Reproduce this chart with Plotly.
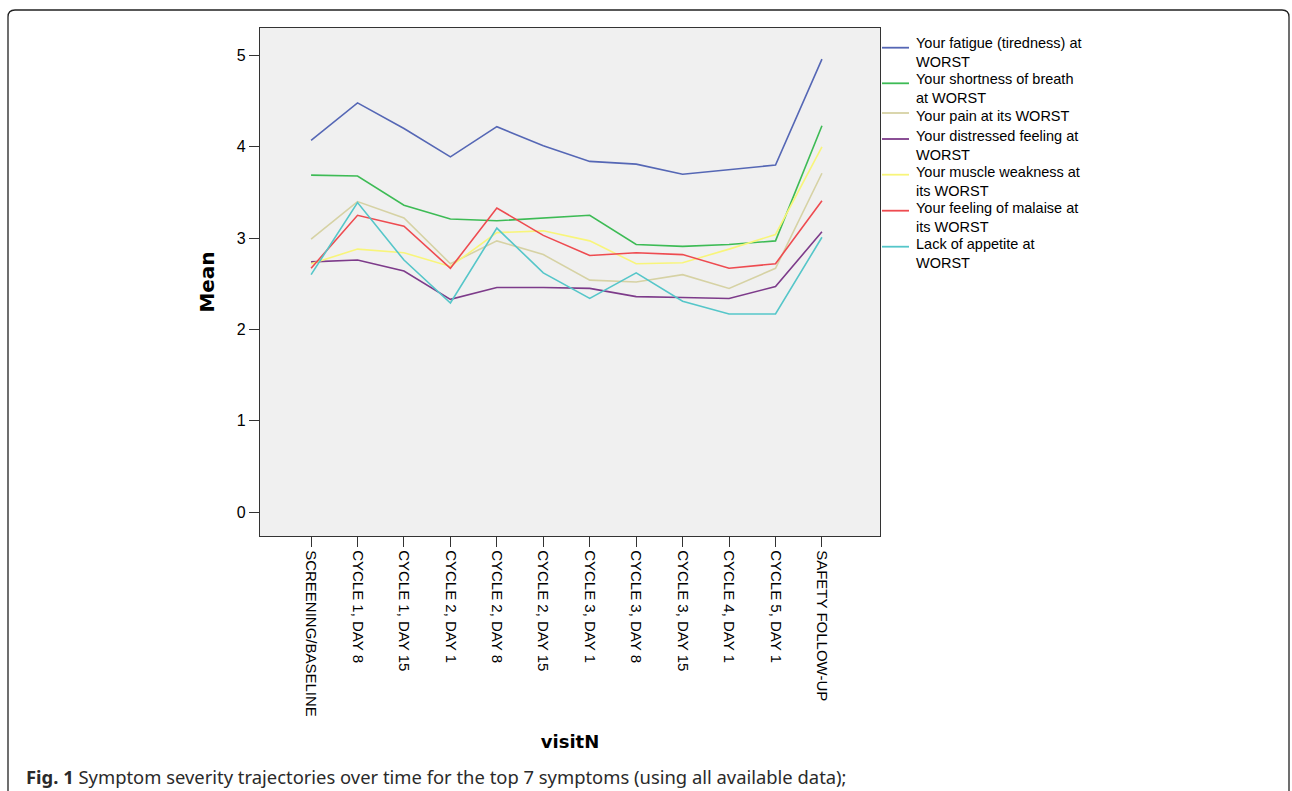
import plotly.graph_objects as go

visits = ["SCREENING/BASELINE", "CYCLE 1, DAY 8", "CYCLE 1, DAY 15", "CYCLE 2, DAY 1",
          "CYCLE 2, DAY 8", "CYCLE 2, DAY 15", "CYCLE 3, DAY 1", "CYCLE 3, DAY 8",
          "CYCLE 3, DAY 15", "CYCLE 4, DAY 1", "CYCLE 5, DAY 1", "SAFETY FOLLOW-UP"]

fatigue = [4.07, 4.48, 4.20, 3.89, 4.22, 4.01, 3.84, 3.81, 3.70, 3.75, 3.80, 4.96]
breath = [3.69, 3.68, 3.36, 3.21, 3.19, 3.22, 3.25, 2.93, 2.91, 2.93, 2.97, 4.23]
pain = [2.99, 3.40, 3.22, 2.72, 2.97, 2.82, 2.54, 2.52, 2.60, 2.45, 2.67, 3.71]
distress = [2.74, 2.76, 2.64, 2.33, 2.46, 2.46, 2.45, 2.36, 2.35, 2.34, 2.47, 3.07]
weakness = [2.72, 2.88, 2.84, 2.69, 3.06, 3.08, 2.97, 2.72, 2.73, 2.88, 3.04, 4.00]
malaise = [2.67, 3.25, 3.13, 2.67, 3.33, 3.03, 2.81, 2.84, 2.82, 2.67, 2.72, 3.41]
appetite = [2.60, 3.39, 2.76, 2.29, 3.11, 2.62, 2.34, 2.62, 2.31, 2.17, 2.17, 3.01]

legend_lines = [["Your fatigue (tiredness) at", "WORST"],
                ["Your shortness of breath", "at WORST"],
                ["Your pain at its WORST"],
                ["Your distressed feeling at", "WORST"],
                ["Your muscle weakness at", "its WORST"],
                ["Your feeling of malaise at", "its WORST"],
                ["Lack of appetite at", "WORST"]]
series_values = [fatigue, breath, pain, distress, weakness, malaise, appetite]
colors = ["#5567b5", "#3dbb55", "#d6d2a4", "#7d3b8a", "#f8f57a", "#ee4b50", "#55c6c9"]

PAGE_W, PAGE_H = 1292, 791
W, H = PAGE_W, PAGE_H
L, R, T, B = 260, 880, 28, 536   # plot area in page pixels

def px(x):
    return (x - L) / (R - L)

def py(y):
    return (B - y) / (B - T)

fig = go.Figure()
for lines, vals, col in zip(legend_lines, series_values, colors):
    fig.add_trace(go.Scatter(x=visits, y=vals, mode="lines", name=" ".join(lines),
                             line=dict(color=col, width=1.6), showlegend=False))

font_family = "Liberation Sans, Arial, sans-serif"
title_family = "DejaVu Sans, Verdana, sans-serif"

# outer rounded frame
x0, y0, x1, y1, r = px(8), py(10), px(1289), py(820), 7
rx = r / (R - L)
ry = r / (B - T)
path = (f"M {x0} {y1} L {x0} {y0 - ry} Q {x0} {y0} {x0 + rx} {y0} "
        f"L {x1 - rx} {y0} Q {x1} {y0} {x1} {y0 - ry} L {x1} {y1}")
shapes = [dict(type="path", xref="paper", yref="paper", path=path,
               line=dict(color="#222", width=1.3), layer="below")]

annotations = []
# legend drawn as line samples + text blocks (SPSS style)
block_top = [34.5, 70.5, 107.0, 127.0, 163.0, 199.0, 235.0]
sample_y = [47.7, 83.3, 113.0, 139.0, 174.7, 210.7, 246.7]
LEG_FS = 14.5
for lines, col, top, sy in zip(legend_lines, colors, block_top, sample_y):
    shapes.append(dict(type="line", xref="paper", yref="paper",
                       x0=px(882), x1=px(909), y0=py(sy), y1=py(sy),
                       line=dict(color=col, width=1.8)))
    annotations.append(dict(xref="paper", yref="paper", x=px(915), y=py(top),
                            xanchor="left", yanchor="top", align="left", showarrow=False,
                            borderpad=0,
                            text="<br>".join(lines),
                            font=dict(family=font_family, size=LEG_FS, color="#000")))

annotations.append(dict(xref="paper", yref="paper", x=px(24), y=py(776),
                        xanchor="left", yanchor="middle", showarrow=False,
                        text="<b>Fig. 1</b> Symptom severity trajectories over time for the top 7 symptoms (using all available data);",
                        font=dict(family="Noto Sans, sans-serif", size=18.4, color="#2a2a2a")))

fig.update_layout(
    width=W, height=H,
    margin=dict(l=L, r=PAGE_W - R, t=T, b=PAGE_H - B, pad=0),
    paper_bgcolor="white",
    plot_bgcolor="#f0f0f0",
    font=dict(family=font_family, size=15, color="#000000"),
    showlegend=False,
    xaxis=dict(type="category", range=[-1.1, 12.25], showgrid=False, zeroline=False,
               showline=True, linecolor="#333", linewidth=1.3, mirror=True,
               ticks="outside", ticklen=10, tickcolor="#333", tickwidth=1.3,
               tickangle=90, tickfont=dict(family=font_family, size=15, color="#000"),
               title=dict(text="<b>visitN</b>", font=dict(family=title_family, size=18),
                          standoff=19)),
    yaxis=dict(range=[-0.26, 5.30], dtick=1, tick0=0, showgrid=False, zeroline=False,
               showline=True, linecolor="#333", linewidth=1.3, mirror=True,
               ticks="outside", ticklen=10, tickcolor="#333", tickwidth=1.3,
               tickfont=dict(family=font_family, size=16, color="#000"),
               title=dict(text="<b>Mean</b>", font=dict(family=title_family, size=20),
                          standoff=16)),
    shapes=shapes,
    annotations=annotations,
)

fig.write_html("out.html",
               config={"displayModeBar": False},
               post_script="document.body.style.margin='0px';"
                           "document.body.style.overflow='hidden';"
                           "document.documentElement.style.overflow='hidden';")
